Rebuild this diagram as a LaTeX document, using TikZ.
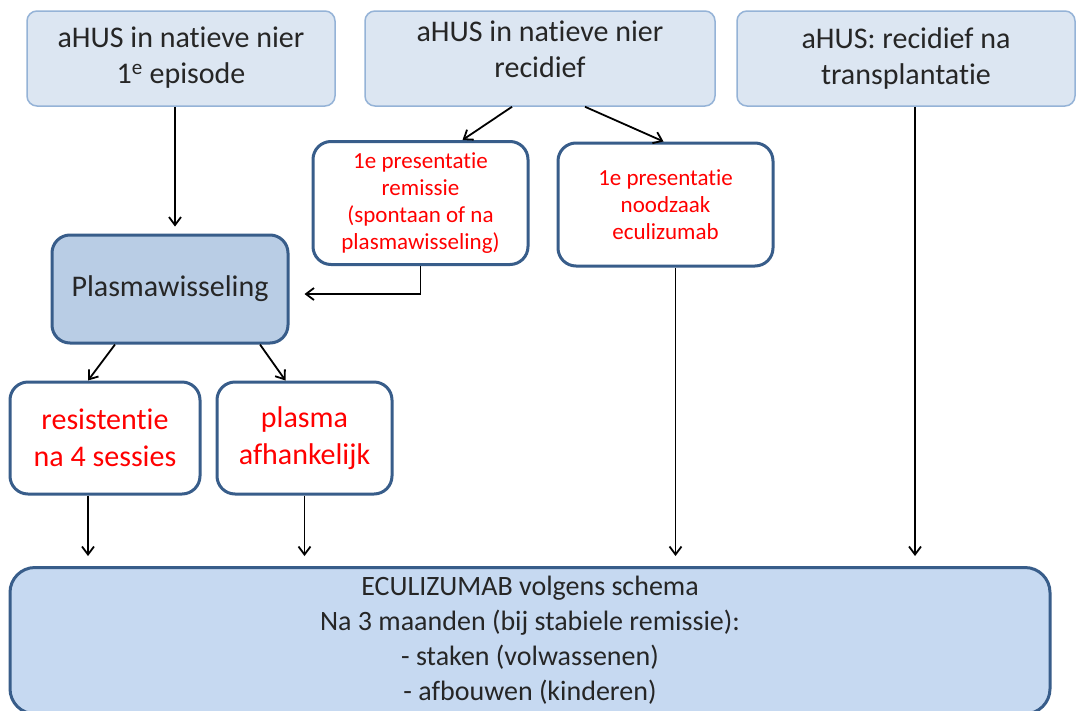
\documentclass[tikz,border=0pt]{standalone}
\usepackage{fontspec}
\setmainfont{Carlito}[Ligatures=NoCommon]
\usepackage{tikz}
\usetikzlibrary{arrows, arrows.meta}
\usetikzlibrary{shapes}
\definecolor{topfill}{HTML}{DCE6F2}
\definecolor{topline}{HTML}{95B3D7}
\definecolor{midfill}{HTML}{B9CDE5}
\definecolor{lowfill}{HTML}{C6D9F1}
\definecolor{darkline}{HTML}{385D8A}
\definecolor{redtext}{HTML}{FF0000}
\tikzset{topbox/.style={draw=topline, fill=topfill, line width=1.5pt, rounded corners=10pt, align=center, text=black!85, font=\fontsize{30}{36}\selectfont},
  redbox/.style={draw=darkline, fill=white, line width=3pt, rounded corners=18pt, align=center, text=redtext},
  arr/.style={-{Straight Barb[length=8pt,width=12pt]}, line width=1.8pt}}

\begin{document}
\begin{tikzpicture}[x=1pt,y=-1pt]
      \useasboundingbox[fill=white] (0,0) rectangle (1077,710);
  \node[topbox, minimum width=308pt, minimum height=95pt, text depth=6pt] (A) at (181,58.5) {aHUS in natieve nier\\1\textsuperscript{e} episode};
  \node[topbox, minimum width=350pt, minimum height=95pt, text depth=18pt] (B) at (540,58.5) {aHUS in natieve nier\\recidief};
  \node[topbox, minimum width=338pt, minimum height=95pt] (C) at (906,58.5) {aHUS: recidief na\\transplantatie};
      \node[redbox, minimum width=215pt, minimum height=123pt, font=\fontsize{23}{27}\selectfont] (D) at (420.5,203) {1e presentatie\\remissie\\(spontaan of na\\plasmawisseling)};
      \node[redbox, minimum width=215pt, minimum height=123pt, font=\fontsize{23}{27}\selectfont] (E) at (665.5,204.5) {1e presentatie\\noodzaak\\eculizumab};
  \node[redbox, fill=midfill, text=black!85, minimum width=236pt, minimum height=108pt, font=\fontsize{30}{36}\selectfont] (P) at (170,289) {Plasmawisseling};
  \node[redbox, minimum width=190pt, minimum height=112pt, font=\fontsize{30}{37}\selectfont] (R) at (105,438) {resistentie\\na 4 sessies};
  \node[redbox, minimum width=175pt, minimum height=112pt, font=\fontsize{30}{37}\selectfont] (F) at (304.5,438) {plasma\\afhankelijk};
   \node[redbox, fill=lowfill, text=black!85, rounded corners=25pt, anchor=north, minimum width=1040pt, inner ysep=9pt, font=\fontsize{28}{35}\selectfont] (Ecu) at (530,566) {ECULIZUMAB volgens schema\\Na 3 maanden (bij stabiele remissie):\\- staken (volwassenen)\\- afbouwen (kinderen)};
 \draw[arr, shorten >=7pt] ([xshift=-6pt]A.south) -- ([xshift=5pt]P.north);
 \draw[arr] ([xshift=-28pt]B.south) -- ([xshift=42pt]D.north);
 \draw[arr] ([xshift=45pt]B.south) -- ([xshift=-2pt]E.north);
 \draw[arr] (D.south) |- ([xshift=15pt,yshift=-5pt]P.east);
 \draw[arr] ([xshift=-55pt]P.south) -- ([xshift=-17pt]R.north);
 \draw[arr] ([xshift=90pt]P.south) -- ([xshift=-19pt]F.north);
 \draw[arr, shorten >=10pt] ([xshift=-17pt]R.south) -- ([xshift=-17pt]R.south |- Ecu.north);
 \draw[arr, shorten >=10pt] (F.south) -- (F.south |- Ecu.north);
 \draw[arr, shorten >=10pt] ([xshift=10pt]E.south) -- ([xshift=10pt]E.south |- Ecu.north);
 \draw[arr, shorten >=10pt] ([xshift=9pt]C.south) -- ([xshift=9pt]C.south |- Ecu.north);
\end{tikzpicture}
\end{document}
